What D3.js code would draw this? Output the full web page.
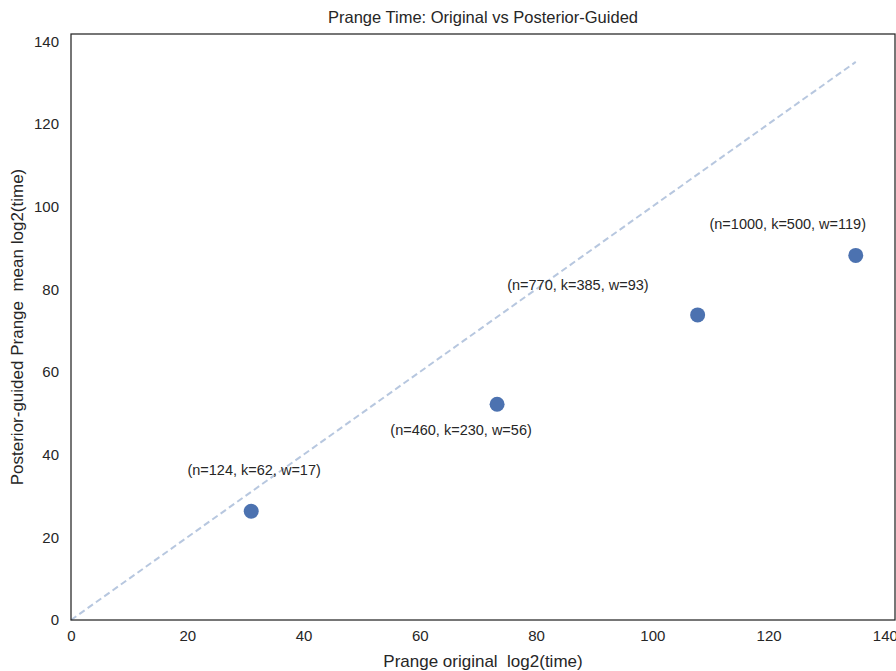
<!DOCTYPE html>
<html>
<head>
<meta charset="utf-8">
<script src="https://cdn.jsdelivr.net/npm/d3@7"></script>
<style>
  body { margin: 0; background: #fff; }
  text { font-family: "Liberation Sans", Arial, sans-serif; fill: #262626; }
</style>
</head>
<body>
<div id="chart"></div>
<script>
// data
const originalTime = [31.0, 73.3, 107.8, 135.0];
const guidedTime = [26.3, 52.2, 73.8, 88.2];
const labels = ['(n=124, k=62, w=17)', '(n=460, k=230, w=56)', '(n=770, k=385, w=93)', '(n=1000, k=500, w=119)'];
const labelX = [31.5, 67.1, 87.2, 123.3];
const labelY = [36.3, 46.0, 81.1, 95.9];
const ticks = [0, 20, 40, 60, 80, 100, 120, 140];

const width = 896, height = 671;
const margin = { top: 34, right: 1, bottom: 51, left: 71 };
const w = width - margin.left - margin.right,
    h = height - margin.top - margin.bottom;

const svg = d3.select('#chart')
    .append('svg')
    .attr('width', width)
    .attr('height', height);

const g = svg.append('g')
    .attr('transform', 'translate(' + margin.left + ',' + margin.top + ')');

const maxVal = d3.max(originalTime);
const x = d3.scaleLinear().domain([0, maxVal * 1.05]).range([0, w]);
const y = d3.scaleLinear().domain([0, maxVal * 1.05]).range([h, 0]);

// axes, no tick marks
const xAxis = g.append('g')
    .attr('transform', 'translate(0,' + h + ')')
    .call(d3.axisBottom(x).tickValues(ticks).tickSize(0).tickPadding(10));
const yAxis = g.append('g')
    .call(d3.axisLeft(y).tickValues(ticks).tickSize(0).tickPadding(12));
[xAxis, yAxis].forEach(a => {
    a.select('.domain').remove();
    a.selectAll('text').style('font-size', '15px').attr('fill', '#262626');
});

// diagonal reference line
g.append('line')
    .attr('x1', x(0)).attr('y1', y(0))
    .attr('x2', x(maxVal)).attr('y2', y(maxVal))
    .attr('stroke', '#4c72b0')
    .attr('stroke-opacity', 0.4)
    .attr('stroke-width', 2)
    .attr('stroke-dasharray', '6.5,3.7');

// points
g.selectAll('circle')
    .data(originalTime)
    .enter().append('circle')
    .attr('cx', d => x(d))
    .attr('cy', (d, i) => y(guidedTime[i]))
    .attr('r', 7.5)
    .attr('fill', '#4c72b0');

// annotations
g.selectAll('.ann')
    .data(labels)
    .enter().append('text')
    .attr('class', 'ann')
    .attr('x', (d, i) => x(labelX[i]))
    .attr('y', (d, i) => y(labelY[i]))
    .attr('dy', '0.35em')
    .attr('text-anchor', 'middle')
    .style('font-size', '14.5px')
    .text(d => d);

// frame
g.append('rect')
    .attr('width', w).attr('height', h)
    .attr('fill', 'none')
    .attr('stroke', '#262626')
    .attr('stroke-width', 1.25);

svg.append('text')
    .attr('x', margin.left + w / 2).attr('y', 23)
    .attr('text-anchor', 'middle')
    .style('font-size', '16.5px')
    .text('Prange Time: Original vs Posterior-Guided');

svg.append('text')
    .attr('x', margin.left + w / 2).attr('y', 667)
    .attr('text-anchor', 'middle')
    .style('font-size', '17px')
    .style('white-space', 'pre')
    .text('Prange original  log2(time)');

svg.append('text')
    .attr('transform', 'translate(23,' + (margin.top + h / 2) + ') rotate(-90)')
    .attr('text-anchor', 'middle')
    .style('font-size', '17px')
    .style('white-space', 'pre')
    .text('Posterior-guided Prange  mean log2(time)');
</script>
</body>
</html>
